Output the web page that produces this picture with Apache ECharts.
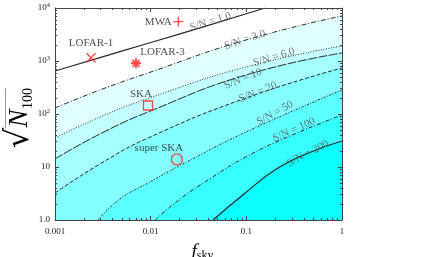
<!DOCTYPE html>
<html><head><meta charset="utf-8">
<script src="https://cdn.jsdelivr.net/npm/echarts@6/dist/echarts.min.js"></script>
<style>html,body{margin:0;padding:0;background:#fff}#c{width:422px;height:257px}</style>
</head><body><div id="c"></div>
<script>
// ---- axis ticks ----
const fskyTicks = [0.001, 0.01, 0.1, 1];
const fskyTickLabels = ['0.001', '0.01', '0.1', '1'];
const fskyMinor = [0.002,0.003,0.004,0.005,0.006,0.007,0.008,0.009,
                   0.02,0.03,0.04,0.05,0.06,0.07,0.08,0.09,
                   0.2,0.3,0.4,0.5,0.6,0.7,0.8,0.9];
const nTicks = [1, 10, 100, 1000, 10000];
const nTickLabels = ['1.0', '10', '10{sup|2}', '10{sup|3}', '10{sup|4}'];
const nMinor = [2,3,4,5,6,7,8,9,20,30,40,50,60,70,80,90,
                200,300,400,500,600,700,800,900,2000,3000,4000,5000,6000,7000,8000,9000];

// ---- S/N contours (f_sky, sqrt(N100)) ----
const snLevels = ['1.0', '3.0', '6.0', '10', '20', '50', '100', '200'];
const sn1_f = [0.001, 0.00295, 0.00984, 0.0328, 0.157];
const sn1_n = [647, 1158, 2213, 4227, 10000];
const sn3_f = [0.001, 0.00295, 0.00937, 0.099, 1.0];
const sn3_n = [130, 284, 594, 2490, 7100];
const sn6_f = [0.001, 0.00295, 0.00937, 0.099, 1.0];
const sn6_n = [35.2, 87.7, 196, 771, 1919];
const sn10_f = [0.001, 0.00295, 0.00937, 0.099, 1.0];
const sn10_n = [14.2, 42, 109, 545, 1416];
const sn20_f = [0.001, 0.00295, 0.00937, 0.099, 1.0];
const sn20_n = [3.23, 11.4, 35.2, 200, 738];
const sn50_f = [0.00281, 0.00478, 0.00937, 0.0207, 0.099, 1.0];
const sn50_n = [1, 2.49, 4.99, 10.9, 45.7, 284];
const sn100_f = [0.0111, 0.0203, 0.0428, 0.099, 0.286, 1.0];
const sn100_n = [1, 2.49, 6.19, 15.5, 38.5, 95.8];
const sn200_f = [0.0449, 0.0946, 0.214, 0.474, 1.0];
const sn200_n = [1, 3.10, 9.57, 19.2, 31.0];

// contour label anchors
const snLabelF = [0.0422, 0.0968, 0.1946, 0.0923, 0.1324, 0.1995, 0.315, 0.441];
const snLabelN = [5500, 2500, 1170, 460, 258, 104, 50, 18];

// ---- instruments ----
const instNames = ['MWA', 'LOFAR-1', 'LOFAR-3', 'SKA', 'super SKA'];
const instFsky = [0.01945, 0.00238, 0.00703, 0.00938, 0.0188];
const instSqrtN = [5520, 1153, 906, 144.6, 13.9];

// ---- styles ----
const SERIF = 'Liberation Serif';
const contourF = [sn1_f, sn3_f, sn6_f, sn10_f, sn20_f, sn50_f, sn100_f, sn200_f];
const contourN = [sn1_n, sn3_n, sn6_n, sn10_n, sn20_n, sn50_n, sn100_n, sn200_n];
const fills = [null, '#e0ffff', '#c4ffff', '#a4ffff', '#84ffff', '#5cffff', '#36ffff', '#0affff'];
const dashes = ['solid', [5,2,1,2], [1,1.6], [9,1.5], [4,2], [2,1.5,1,1.5], [4,2,1,2], 'solid'];
const widths = [1.2, 1, 1, 1, 1, 1, 1, 1.2];
const labelAngles = [17, 18, 17, 22, 22, 29, 24, 28];
const instSymbols = ['path://M5,0L5,10M0,5L10,5', 'path://M0,0L10,10M10,0L0,10',
  'path://M5,0L5,10M0,5L10,5M1.5,1.5L8.5,8.5M8.5,1.5L1.5,8.5', 'rect', 'circle'];
const instSizes = [10, 9, 10, 9, 11];
const instStroke = [1.3, 1.3, 1.8, 1.3, 1.3];
const instLabelOffsets = [[-20, 0.5], [0, -15], [26.5, -11.5], [-7, -11], [-18, -11.5]];

function idxOf(arr, v) {
  return arr.findIndex(t => Math.abs(Math.log10(t) - Math.log10(v)) < 1e-6);
}

const AX = '#444';
function xAx(extra) {
  return Object.assign({type: 'log', logBase: 10, min: 0.001, max: 1, z: 10,
    splitLine: {show: false}, axisLine: {show: false, onZero: false, lineStyle: {color: AX}},
    axisLabel: {show: false}}, extra);
}
function yAx(extra) {
  return Object.assign({type: 'log', logBase: 10, min: 1, max: 10000, z: 10,
    splitLine: {show: false}, axisLine: {show: false, onZero: false, lineStyle: {color: AX}},
    axisLabel: {show: false}}, extra);
}
const majTick = (vals) => ({show: true, inside: true, length: 4, customValues: vals, lineStyle: {color: AX}});
const minTick = (vals) => ({show: true, inside: true, length: 2, customValues: vals, lineStyle: {color: AX}});

const series = [];
for (let k = 0; k < snLevels.length; k++) {
  const s = {
    type: 'line', xAxisIndex: 0, yAxisIndex: 0, silent: true,
    data: contourF[k].map((f, i) => [f, contourN[k][i]]),
    symbol: 'none', showSymbol: false, smooth: 0.5,
    lineStyle: {color: '#2a2a2a', width: widths[k], type: dashes[k]},
    clip: true, z: 2
  };
  if (fills[k]) s.areaStyle = {origin: 'start', color: fills[k], opacity: 1};
  series.push(s);
}
series.push({
  type: 'scatter', xAxisIndex: 0, yAxisIndex: 0, silent: true, symbolSize: 1,
  itemStyle: {color: 'rgba(0,0,0,0)'},
  data: snLevels.map((lv, i) => ({
    value: [snLabelF[i], snLabelN[i]], name: 'S/N = ' + lv,
    label: {rotate: labelAngles[i]}
  })),
  label: {show: true, position: 'inside', formatter: p => p.name,
    fontFamily: SERIF, fontSize: 11, color: '#555'},
  z: 6
});
series.push({
  type: 'scatter', xAxisIndex: 0, yAxisIndex: 0, silent: true,
  data: instNames.map((nm, i) => ({
    value: [instFsky[i], instSqrtN[i]], name: nm,
    symbol: instSymbols[i], symbolSize: instSizes[i],
    itemStyle: {borderWidth: instStroke[i]},
    label: {offset: instLabelOffsets[i]}
  })),
  itemStyle: {color: 'rgba(0,0,0,0)', borderColor: '#ff1a1a', borderWidth: 1.3},
  label: {show: true, position: 'inside', formatter: p => p.name,
    fontFamily: SERIF, fontSize: 11, color: '#222'},
  z: 7
});

const option = {
  animation: false,
  backgroundColor: '#fff',
  grid: {left: 55, right: 80, top: 8, bottom: 37, containLabel: false, outerBoundsMode: 'none'},
  xAxis: [
    xAx({position: 'bottom', axisLine: {show: true, onZero: false, lineStyle: {color: AX}},
      axisTick: majTick(fskyTicks),
      axisLabel: {show: true, customValues: fskyTicks, margin: 7, fontFamily: SERIF, fontSize: 9, color: '#222',
        formatter: v => { const i = idxOf(fskyTicks, v); return i >= 0 ? fskyTickLabels[i] : ''; }},
      name: '{f|f}{s|sky}', nameLocation: 'middle', nameGap: 22, nameMoveOverlap: false,
      nameTextStyle: {padding: [0, 0, 0, 8], rich: {
        f: {fontFamily: SERIF, fontStyle: 'italic', fontSize: 19, color: '#000'},
        s: {fontFamily: SERIF, fontSize: 12, color: '#000', verticalAlign: 'bottom', padding: [8, 0, 0, 0]}}}}),
    xAx({position: 'bottom', axisTick: minTick(fskyMinor)}),
    xAx({position: 'top', axisLine: {show: true, onZero: false, lineStyle: {color: AX}}, axisTick: majTick(fskyTicks)}),
    xAx({position: 'top', axisTick: minTick(fskyMinor)})
  ],
  yAxis: [
    yAx({position: 'left', axisLine: {show: true, onZero: false, lineStyle: {color: AX}},
      axisTick: majTick(nTicks),
      axisLabel: {show: true, customValues: nTicks, margin: 5, fontFamily: SERIF, fontSize: 9, color: '#222',
        formatter: v => { const i = idxOf(nTicks, v); return i >= 0 ? nTickLabels[i] : ''; },
        rich: {sup: {fontFamily: SERIF, fontSize: 6.5, color: '#222', padding: [0, 0, 6, 0]}}},
      name: '{pad| }{ov|__________}\n{sq|√}{n|N}{sub|100}', nameLocation: 'middle', nameGap: 20, nameRotate: 90,
      nameMoveOverlap: false,
      nameTextStyle: {padding: [0, 8, 0, 0], rich: {
        pad: {width: 19, lineHeight: 4, fontSize: 8},
        ov: {width: 40, lineHeight: 4, fontSize: 8, fontFamily: SERIF, color: '#000'},
        sq: {fontFamily: 'DejaVu Serif', fontSize: 32, width: 19, lineHeight: 30, color: '#000'},
        n: {fontFamily: SERIF, fontStyle: 'italic', fontSize: 27, width: 20, lineHeight: 30, color: '#000'},
        sub: {fontFamily: SERIF, fontSize: 14, width: 20, lineHeight: 14, verticalAlign: 'bottom', color: '#000'}}}}),
    yAx({position: 'left', axisTick: minTick(nMinor)}),
    yAx({position: 'right', axisLine: {show: true, onZero: false, lineStyle: {color: AX}}, axisTick: majTick(nTicks)}),
    yAx({position: 'right', axisTick: minTick(nMinor)})
  ],
  series: series
};
const chart = echarts.init(document.getElementById('c'));
chart.setOption(option);
</script></body></html>
